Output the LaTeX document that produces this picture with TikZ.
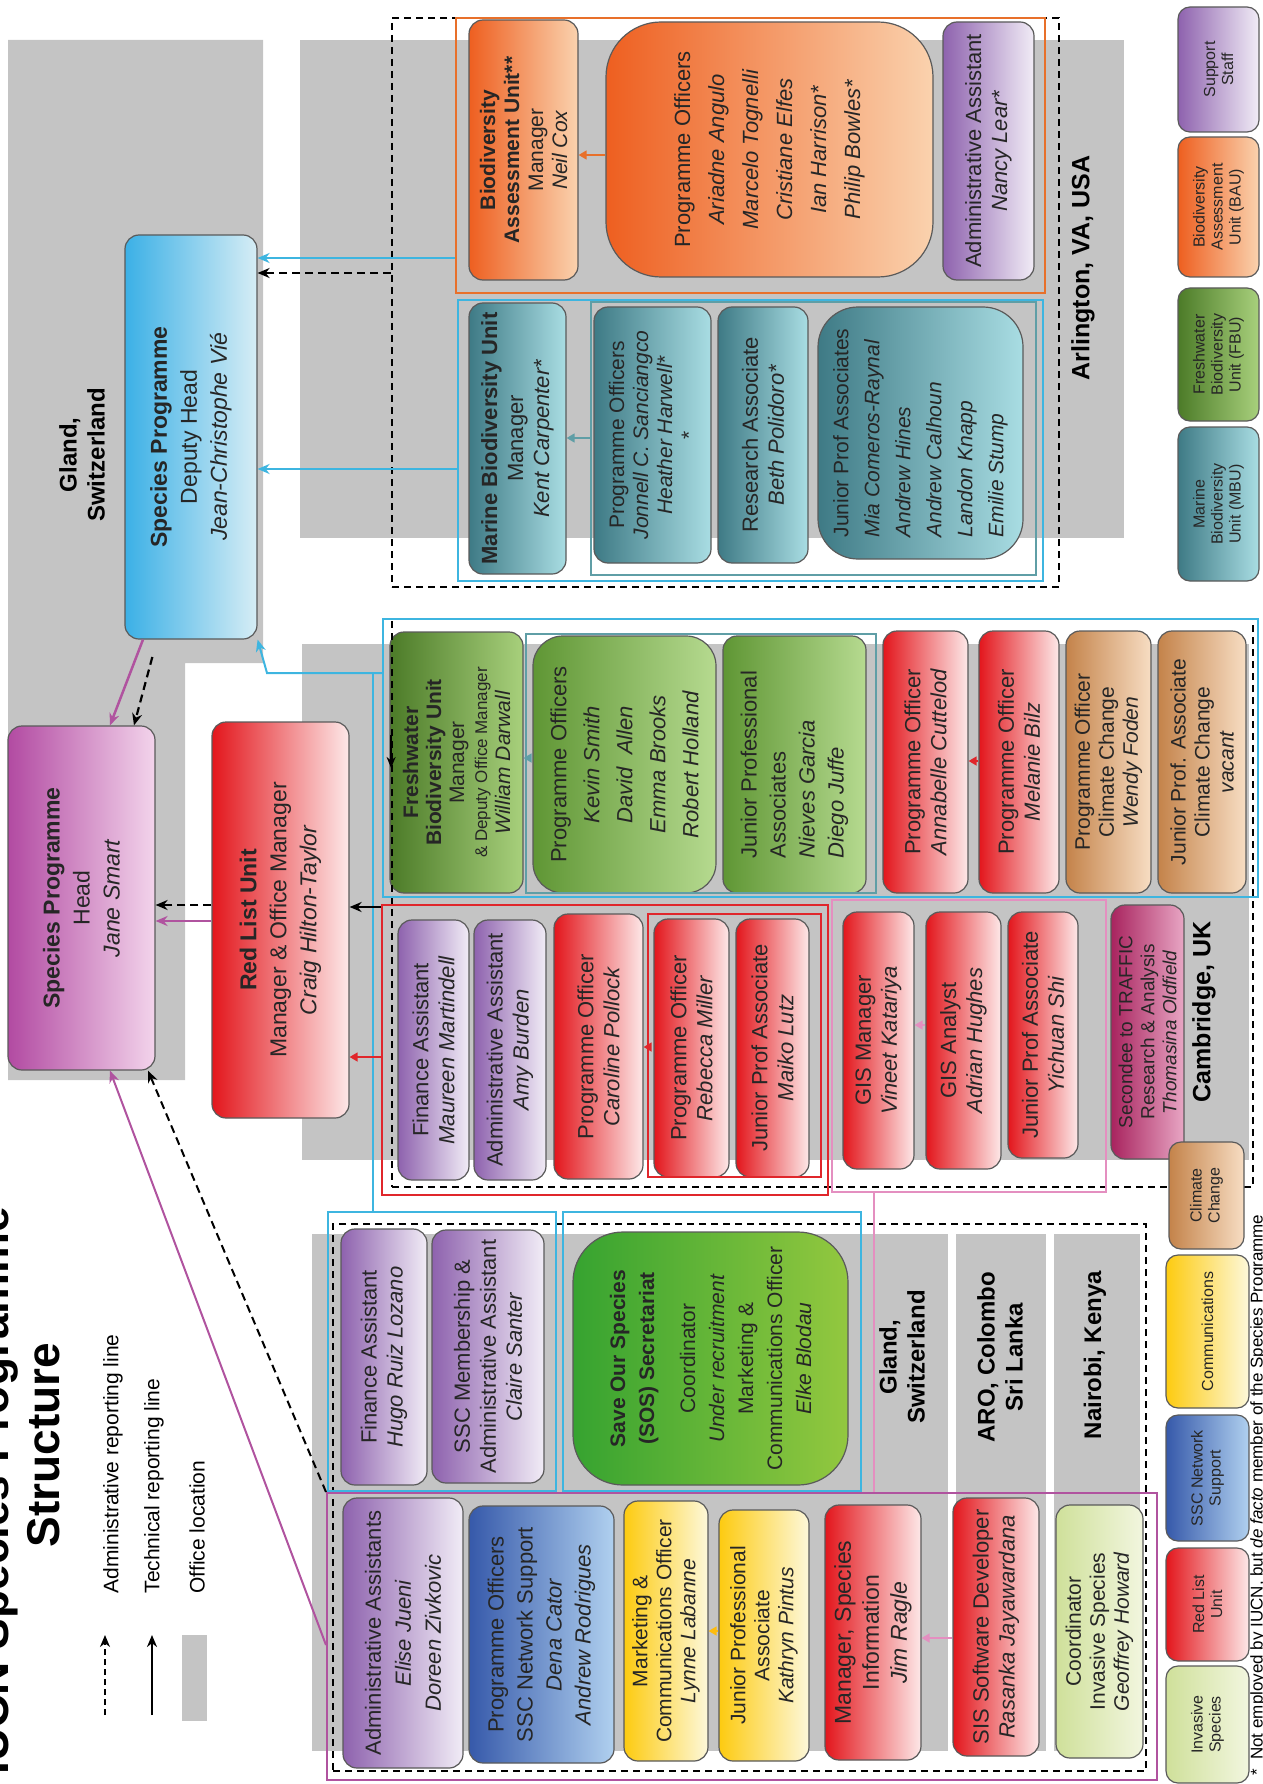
\documentclass[tikz,border=0pt]{standalone}
\usepackage{fontspec}
\setmainfont{Liberation Sans}
\usetikzlibrary{arrows.meta}

\definecolor{officegray}{HTML}{C4C4C4}
\definecolor{boxline}{HTML}{5A5A5A}
\definecolor{purpD}{HTML}{8E62AE}\definecolor{purpL}{HTML}{F1ECF6}
\definecolor{oranD}{HTML}{EE5F20}\definecolor{oranL}{HTML}{FAD2AE}
\definecolor{tealD}{HTML}{3E7A85}\definecolor{tealL}{HTML}{A9DDE3}
\definecolor{fgrnD}{HTML}{4C7B28}\definecolor{fgrnL}{HTML}{A8D07C}
\definecolor{lgrnD}{HTML}{5F9634}\definecolor{lgrnL}{HTML}{B6DA90}
\definecolor{redD}{HTML}{E3161C}\definecolor{redL}{HTML}{FDE8E8}
\definecolor{tanD}{HTML}{C4834A}\definecolor{tanL}{HTML}{F7DDC3}
\definecolor{bluD}{HTML}{3659AA}\definecolor{bluL}{HTML}{B0D0EF}
\definecolor{yelD}{HTML}{FDCB10}\definecolor{yelL}{HTML}{FDF8DA}
\definecolor{invD}{HTML}{CFE09A}\definecolor{invL}{HTML}{F2F6DF}
\definecolor{sosD}{HTML}{36A330}\definecolor{sosL}{HTML}{93C83F}
\definecolor{trfD}{HTML}{A8235E}\definecolor{trfL}{HTML}{E8A6C4}
\definecolor{headD}{HTML}{B24AA2}\definecolor{headL}{HTML}{F3D4EB}
\definecolor{depD}{HTML}{3BB0E6}\definecolor{depL}{HTML}{D6EDF5}
\definecolor{bauLine}{HTML}{E8702A}
\definecolor{cyanLine}{HTML}{3DB5E0}
\definecolor{tealLine}{HTML}{5F9EA6}
\definecolor{redLine}{HTML}{E0262B}
\definecolor{pinkLine}{HTML}{E48FC0}
\definecolor{magLine}{HTML}{B0539F}

\begin{document}
\begin{tikzpicture}[x=1pt,y=-1pt]
\tikzset{grad/.style 2 args={left color=#1,right color=#2},
  sz/.style 2 args={minimum width=#1,minimum height=#2}}
\tikzstyle{ubox}=[rotate=90,draw=boxline,line width=1.2pt,rounded corners=14pt,align=center,inner sep=2pt,text=black!85,font=\fontsize{22}{26}\selectfont]
\tikzstyle{dense}=[font=\fontsize{21}{24}\selectfont]
\tikzstyle{purp}=[ubox,grad={purpD}{purpL}]
\tikzstyle{oran}=[ubox,grad={oranD}{oranL}]
\tikzstyle{teal}=[ubox,grad={tealD}{tealL}]
\tikzstyle{fgrn}=[ubox,grad={fgrnD}{fgrnL}]
\tikzstyle{lgrn}=[ubox,grad={lgrnD}{lgrnL}]
\tikzstyle{redb}=[ubox,grad={redD}{redL}]
\tikzstyle{tanb}=[ubox,grad={tanD}{tanL}]
\tikzstyle{blub}=[ubox,grad={bluD}{bluL}]
\tikzstyle{yelb}=[ubox,grad={yelD}{yelL}]
\tikzstyle{invb}=[ubox,grad={invD}{invL}]
\tikzstyle{legbox}=[font=\fontsize{16}{18}\selectfont,rounded corners=12pt]
\tikzstyle{loc}=[rotate=90,align=center,font=\bfseries\fontsize{24}{28}\selectfont]
\tikzstyle{grp}=[inner sep=0pt,line width=2pt]
\tikzstyle{office}=[grp,draw=black,line width=1.8pt,dash pattern=on 7pt off 5pt]
\tikzstyle{adm}=[draw=black,line width=2.2pt,dash pattern=on 8pt off 5pt,-{Stealth[length=12pt,width=10pt]}]
\tikzstyle{techM}=[draw=magLine,line width=2.5pt,-{Stealth[length=12pt,width=10pt]}]
\tikzstyle{techC}=[draw=cyanLine,line width=2.5pt,-{Stealth[length=12pt,width=10pt]}]
\tikzstyle{techK}=[draw=black,line width=2.5pt,-{Stealth[length=12pt,width=10pt]}]
\tikzstyle{tip}=[line width=1.5pt,-{Triangle[length=8pt,width=9pt]}]

\useasboundingbox (0,0) rectangle (1262,1784);

% office locations
\fill[officegray] (8,40) -- (263,40) -- (263,663) -- (185,663) -- (185,1080) -- (8,1080) -- cycle;
\fill[officegray] (300,40) rectangle (1124,538);
\fill[officegray] (302,644) rectangle (1249,1160);
\fill[officegray] (312,1234) rectangle (948,1751);
\fill[officegray] (956,1234) rectangle (1046,1751);
\fill[officegray] (1054,1234) rectangle (1140,1751);

% title and key
\node[rotate=90,anchor=west,font=\bfseries\fontsize{46}{50}\selectfont] (titleA) at (-3,1778) {IUCN Species Programme};
\node[rotate=90,font=\bfseries\fontsize{46}{50}\selectfont] (titleB) at (44,1445) {Structure};
\coordinate (keyAdmA) at (105,1715); \coordinate (keyAdmB) at (105,1635);
\coordinate (keyTecA) at (152,1715); \coordinate (keyTecB) at (152,1635);
\draw[adm,line width=1.8pt,dash pattern=on 6pt off 4pt] (keyAdmA) -- (keyAdmB);
\draw[techK,line width=2.5pt] (keyTecA) -- (keyTecB);
\node[fill=officegray,sz={25}{86},inner sep=0pt] (keyOff) at (194.5,1678) {};
\tikzstyle{keytxt}=[rotate=90,anchor=west,font=\fontsize{21}{24}\selectfont]
\node[keytxt] (keyAdmT) at (113,1597) {Administrative reporting line};
\node[keytxt] (keyTecT) at (154,1597) {Technical reporting line};
\node[keytxt] (keyOffT) at (197,1597) {Office location};

% Gland head office
\node[loc] (glandTopLbl) at (82,455) {Gland,\\Switzerland};
\node[ubox,grad={headD}{headL},sz={344}{147},font=\fontsize{23}{30}\selectfont] (head) at (81.5,898) {\textbf{Species Programme}\\Head\\\textit{Jane Smart}};
\node[ubox,grad={depD}{depL},sz={404}{132},font=\fontsize{23}{30}\selectfont] (deputy) at (191,437) {\textbf{Species Programme}\\Deputy Head\\\textit{Jean-Christophe Vié}};
\node[ubox,grad={redD}{redL},sz={396}{137},font=\fontsize{23}{30}\selectfont] (redlist) at (280.5,920) {\textbf{Red List Unit}\\Manager \& Office Manager\\\textit{Craig Hilton-Taylor}};

% Arlington
\node[oran,dense,sz={260}{109}] (bauMgr) at (523.5,150) {\textbf{Biodiversity}\\\textbf{Assessment Unit**}\\Manager\\\textit{Neil Cox}};
\node[oran,sz={255}{327},rounded corners=55pt,font=\fontsize{22}{34}\selectfont] (bauPO) at (769.5,149.5) {Programme Officers\\\textit{Ariadne Angulo}\\\textit{Marcelo Tognelli}\\\textit{Cristiane Elfes}\\\textit{Ian Harrison*}\\\textit{Philip Bowles*}};
\node[purp,sz={258}{91}] (bauAdm) at (988.5,151) {Administrative Assistant\\\textit{Nancy Lear*}};
\node[teal,sz={271}{97}] (mbuMgr) at (517.5,438.5) {\textbf{Marine Biodiversity Unit}\\Manager\\\textit{Kent Carpenter*}};
\node[teal,dense,sz={256}{117}] (mbuPO) at (652.5,435) {Programme Officers\\\textit{Jonnell C. Sanciangco}\\\textit{Heather Harwell*}\\*};
\node[teal,sz={256}{90}] (mbuRA) at (763,435) {Research Associate\\\textit{Beth Polidoro*}};
\node[teal,sz={252}{205},rounded corners=40pt,align=left,font=\fontsize{21}{31}\selectfont] (mbuJPA) at (920.5,433) {Junior Prof Associates\\\textit{Mia Comeros-Raynal}\\\textit{Andrew Hines}\\\textit{Andrew Calhoun}\\\textit{Landon Knapp}\\\textit{Emilie Stump}};
\node[loc,font=\bfseries\fontsize{25}{28}\selectfont] (arlLbl) at (1083,268) {Arlington, VA, USA};

% Cambridge
\node[fgrn,sz={261}{133},font=\fontsize{21}{23}\selectfont] (fbuMgr) at (456.5,762.5) {\textbf{Freshwater}\\\textbf{Biodiversity Unit}\\Manager\\{\fontsize{17}{20}\selectfont\& Deputy Office Manager}\\\textit{William Darwall}};
\node[lgrn,sz={257}{183},rounded corners=30pt,font=\fontsize{22}{33}\selectfont] (fbuPO) at (624.5,764.5) {Programme Officers\\\textit{Kevin Smith}\\\textit{David\ \ Allen}\\\textit{Emma Brooks}\\\textit{Robert Holland}};
\node[lgrn,sz={257}{143},align=left,font=\fontsize{22}{29}\selectfont] (fbuJPA) at (794.5,764.5) {Junior Professional\\Associates\\\textit{Nieves Garcia}\\\textit{Diego Juffe}};
\node[redb,sz={262}{85}] (fbuAnn) at (925.5,762) {Programme Officer\\\textit{Annabelle Cuttelod}};
\node[redb,sz={262}{80}] (fbuMel) at (1019,762) {Programme Officer\\\textit{Melanie Bilz}};
\node[tanb,dense,sz={262}{85}] (fbuWendy) at (1108.5,762) {Programme Officer\\Climate Change\\\textit{Wendy Foden}};
\node[tanb,dense,sz={262}{88}] (fbuVac) at (1202,762) {Junior Prof. Associate\\Climate Change\\\textit{vacant}};
\node[purp,sz={260}{71}] (rlFin) at (433.5,1050) {Finance Assistant\\\textit{Maureen Martindell}};
\node[purp,sz={260}{72}] (rlAdm) at (510,1050) {Administrative Assistant\\\textit{Amy Burden}};
\node[redb,sz={265}{89}] (rlCar) at (598.5,1046.5) {Programme Officer\\\textit{Caroline Pollock}};
\node[redb,sz={258}{75}] (rlReb) at (691.5,1048) {Programme Officer\\\textit{Rebecca Miller}};
\node[redb,sz={258}{73}] (rlMai) at (772.5,1048) {Junior Prof Associate\\\textit{Maiko Lutz}};
\node[redb,sz={257}{71}] (gisMgr) at (878.5,1040.5) {GIS Manager\\\textit{Vineet Katariya}};
\node[redb,sz={257}{75}] (gisAn) at (963.5,1040.5) {GIS Analyst\\\textit{Adrian Hughes}};
\node[redb,sz={246}{70}] (gisJPA) at (1043,1035) {Junior Prof Associate\\\textit{Yichuan Shi}};
\node[ubox,grad={trfD}{trfL},sz={254}{73},font=\fontsize{19}{22}\selectfont] (traffic) at (1147.5,1032) {Secondee to TRAFFIC\\Research \& Analysis\\\textit{Thomasina Oldfield}};
\node[loc,font=\bfseries\fontsize{25}{28}\selectfont] (camLbl) at (1204,1012) {Cambridge, UK};

% Gland, Colombo, Nairobi
\node[purp,sz={256}{86}] (glFin) at (384,1357) {Finance Assistant\\\textit{Hugo Ruiz Lozano}};
\node[purp,sz={253}{112}] (glSSC) at (488,1356.5) {SSC Membership \&\\Administrative Assistant\\\textit{Claire Santer}};
\node[ubox,grad={sosD}{sosL},sz={253}{275},rounded corners=50pt,font=\fontsize{21}{29}\selectfont] (sos) at (710.5,1358.5) {\textbf{Save Our Species}\\\textbf{(SOS) Secretariat}\\[12pt]Coordinator\\\textit{Under recruitment}\\Marketing \&\\Communications Officer\\\textit{Elke Blodau}};
\node[loc] (glLbl) at (902,1357) {Gland,\\Switzerland};
\node[loc] (aroLbl) at (1000,1357) {ARO, Colombo\\Sri Lanka};
\node[loc] (nbiLbl) at (1095,1355) {Nairobi, Kenya};
\node[purp,sz={270}{120},font=\fontsize{22}{30}\selectfont] (mgAdm) at (403,1633) {Administrative Assistants\\\textit{Elise Jueni}\\\textit{Doreen Zivkovic}};
\node[blub,sz={257}{145},font=\fontsize{22}{29}\selectfont] (mgSSC) at (541.5,1634.5) {Programme Officers\\SSC Network Support\\\textit{Dena Cator}\\\textit{Andrew Rodrigues}};
\node[yelb,dense,sz={260}{84}] (mgMkt) at (666,1631) {Marketing \&\\Communications Officer\\\textit{Lynne Labanne}};
\node[yelb,dense,sz={251}{90}] (mgJPA) at (764,1635.5) {Junior Professional\\Associate\\\textit{Kathryn Pintus}};
\node[redb,sz={255}{96},font=\fontsize{23}{28}\selectfont] (mgJim) at (873,1632.5) {Manager, Species\\Information\\\textit{Jim Ragle}};
\node[redb,sz={258}{86}] (mgSIS) at (996,1627) {SIS Software Developer\\\textit{Rasanka Jayawardana}};
\node[invb,dense,sz={253}{87}] (mgInv) at (1099.5,1631.5) {Coordinator\\Invasive Species\\\textit{Geoffrey Howard}};

% group outlines
\node[office,sz={667}{569}] (arlGrp) at (725.5,302.5) {};
\node[office,sz={861}{568}] (camGrp) at (822.5,903) {};
\node[office,sz={813}{547}] (glGrp) at (739.5,1497.5) {};
\node[grp,draw=bauLine,sz={589}{275}] (bauGrp) at (750.5,155.5) {};
\node[grp,draw=cyanLine,sz={585}{281}] (mbuGrp) at (750.5,440.5) {};
\node[grp,draw=tealLine,line width=1.2pt,sz={445}{273}] (mbuIn) at (813.5,438.5) {};
\node[grp,draw=cyanLine,sz={875}{278}] (fbuGrp) at (820.5,758) {};
\node[grp,draw=tealLine,line width=1.2pt,sz={350}{259}] (fbuIn) at (701,763.5) {};
\node[grp,draw=redLine,sz={446}{290}] (rlGrp) at (605,1050) {};
\node[grp,draw=redLine,line width=1.2pt,sz={173}{263}] (rlIn) at (734.5,1045.5) {};
\node[grp,draw=pinkLine,line width=1.5pt,sz={274}{292}] (pinkGrp) at (969,1046) {};
\node[grp,draw=cyanLine,sz={228}{279}] (sosGrpL) at (442,1351.5) {};
\node[grp,draw=cyanLine,sz={298}{279}] (sosGrpR) at (712,1351.5) {};
\node[grp,draw=magLine,sz={830}{287}] (mgGrp) at (742,1636.5) {};

% reporting lines
\draw[techM] (deputy.west -| 143,0) -- (head.east -| 110,0);
\draw[adm,shorten <=18pt] (deputy.west -| 157,0) -- (head.east -| 134,0);
\draw[adm] (redlist.north |- 0,905) -- (head.south |- 0,905);
\draw[techM] (redlist.north |- 0,921) -- (head.south |- 0,921);
\draw[adm] (arlGrp.west |- 0,273) -- (deputy.south |- 0,273);
\draw[techC,line width=2pt] (bauGrp.west |- 0,258) -- (deputy.south |- 0,258);
\draw[techC,line width=2pt] (mbuGrp.west |- 0,469) -- (deputy.south |- 0,469);
\draw[techC,line width=2pt] (fbuGrp.west |- 0,673) -- (267,673) -- (deputy.south west);
\draw[cyanLine,line width=2pt] (sosGrpL.north -| 373,0) -- (373,673);
\draw[techK] (rlGrp.west |- 0,907) -- (redlist.south |- 0,907);
\draw[black,line width=1.8pt,-{Stealth[length=11pt,width=9pt]}] (camGrp.west |- 0,735) -- (camGrp.west |- 0,768);
\draw[techM,line width=2pt] (mgGrp.west |- 0,1645) -- (head.west -| 110,0);
\draw[adm,line width=2pt] (mgGrp.north west) -- (head.west -| 148,0);
\draw[pinkLine,line width=1.5pt] (pinkGrp.south -| 874,0) -- (mgGrp.north -| 874,0);

% links inside the units
\draw[tip,bauLine] (bauPO.north |- 0,155) -- (bauMgr.south |- 0,155);
\draw[tip,tealLine] (mbuIn.west |- 0,438) -- (mbuMgr.south |- 0,438);
\draw[tip,tealLine] (fbuIn.west |- 0,758) -- (fbuMgr.south |- 0,758);
\draw[tip,redLine] (rlGrp.west |- 0,1057) -- (redlist.south |- 0,1057);
\draw[tip,redLine] (rlIn.west |- 0,1047) -- (rlCar.south |- 0,1047);
\draw[tip,redLine] (fbuMel.north |- 0,761) -- (fbuAnn.south |- 0,761);
\draw[tip,pinkLine] (gisAn.north |- 0,1025) -- (gisMgr.south |- 0,1025);
\draw[tip,yelD!80!orange] (mgJPA.north |- 0,1631) -- (mgMkt.south |- 0,1631);
\draw[tip,pinkLine] (mgSIS.north |- 0,1638) -- (mgJim.south |- 0,1638);

% colour key
\node[purp,legbox,sz={125}{81}] (lgSup) at (1218.5,69.5) {Support\\Staff};
\node[oran,legbox,sz={140}{81}] (lgBau) at (1218.5,207) {Biodiversity\\Assessment\\Unit (BAU)};
\node[fgrn,legbox,sz={133}{81}] (lgFbu) at (1218.5,354.5) {Freshwater\\Biodiversity\\Unit (FBU)};
\node[teal,legbox,sz={154}{81}] (lgMbu) at (1218.5,504) {Marine\\Biodiversity\\Unit (MBU)};
\node[tanb,legbox,sz={107}{75}] (lgCli) at (1206.5,1195.5) {Climate\\Change};
\node[yelb,legbox,sz={153}{83}] (lgCom) at (1207.5,1331.5) {Communications};
\node[blub,legbox,sz={126}{83}] (lgSsc) at (1207.5,1478) {SSC Network\\Support};
\node[redb,legbox,sz={113}{83}] (lgRed) at (1207.5,1604.5) {Red List\\Unit};
\node[invb,legbox,sz={117}{83}] (lgInv) at (1207.5,1724.5) {Invasive\\Species};

\node[rotate=90,anchor=north west,inner sep=0pt,font=\fontsize{17}{20}\selectfont] (fnote) at (1250,1776) {*\ \ Not employed by IUCN, but \textit{de facto} member of the Species Programme};
\end{tikzpicture}
\end{document}
